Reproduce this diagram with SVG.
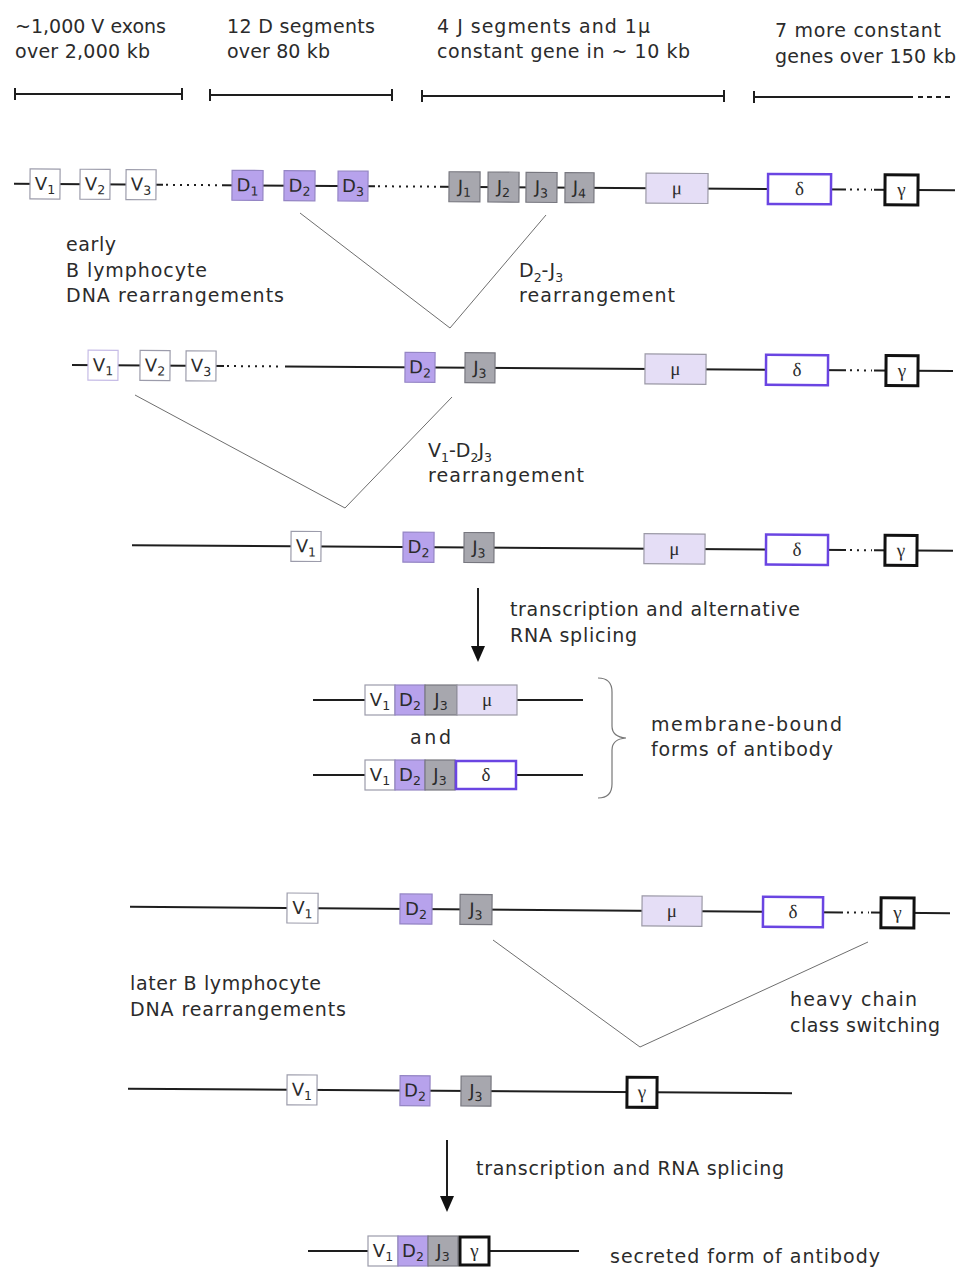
<svg xmlns="http://www.w3.org/2000/svg" width="966" height="1272" viewBox="0 0 966 1272">
  <style>
    .t { font-family: "DejaVu Sans", "Liberation Sans", sans-serif; font-size: 19px; fill: #2b2b2b; }
    .bl { font-family: "DejaVu Sans", "Liberation Sans", sans-serif; font-size: 18px; fill: #2b2b2b; text-anchor: middle; }
    .gk { font-family: "Liberation Serif", "DejaVu Serif", serif; font-size: 19px; fill: #2b2b2b; text-anchor: middle; }
    .sub { font-size: 12.5px; }
    .ln { stroke: #1e1e1e; stroke-width: 2; fill: none; }
    .dot { stroke: #1e1e1e; stroke-width: 2; stroke-dasharray: 2 5; fill: none; }
    .bar { stroke: #1e1e1e; stroke-width: 2; fill: none; }
    .v { fill: #ffffff; stroke: #9c9cab; stroke-width: 1.2; }
    .v2 { fill: #ffffff; stroke: #c6bce6; stroke-width: 1.2; }
    .d { fill: #b7a2ec; stroke: #9485c4; stroke-width: 1.2; }
    .j { fill: #a7a7ae; stroke: #77777f; stroke-width: 1.2; }
    .mu { fill: #e5def6; stroke: #9b99a6; stroke-width: 1.2; }
    .de { fill: #ffffff; stroke: #6a45e2; stroke-width: 2.5; }
    .ga { fill: #ffffff; stroke: #111111; stroke-width: 3; }
    .rl { stroke: #6e6e6e; stroke-width: 1; fill: none; }
    .br { stroke: #777777; stroke-width: 1.2; fill: none; }
  </style>
  <defs>
    <marker id="head" viewBox="0 0 16 14" refX="4" refY="7" markerWidth="16" markerHeight="14" markerUnits="userSpaceOnUse" orient="auto">
      <path d="M0,0 L16,7 L0,14 Z" fill="#111"/>
    </marker>
  </defs>

  <!-- scale header -->
  <g id="header">
    <text class="t" x="15" y="33" textLength="151" lengthAdjust="spacing">~1,000 V exons</text>
    <text class="t" x="15" y="58" textLength="135" lengthAdjust="spacing">over 2,000 kb</text>
    <text class="t" x="227" y="33" textLength="148" lengthAdjust="spacing">12 D segments</text>
    <text class="t" x="227" y="58" textLength="103" lengthAdjust="spacing">over 80 kb</text>
    <text class="t" x="437" y="33" textLength="213" lengthAdjust="spacing">4 J segments and 1μ</text>
    <text class="t" x="437" y="58" textLength="253" lengthAdjust="spacing">constant gene in ~ 10 kb</text>
    <text class="t" x="775" y="37" textLength="166" lengthAdjust="spacing">7 more constant</text>
    <text class="t" x="775" y="63" textLength="181" lengthAdjust="spacing">genes over 150 kb</text>
    <path class="bar" d="M15,94 H182 M15,88 V100 M182,88 V100"/>
    <path class="bar" d="M210,95 H392 M210,89 V101 M392,89 V101"/>
    <path class="bar" d="M422,96 H724 M422,90 V102 M724,90 V102"/>
    <path class="bar" d="M754,97 H913 M754,91 V103"/>
    <path class="bar" d="M918,97 H953" stroke-dasharray="5 4" stroke-width="1.5"/>
  </g>

  <!-- germline locus -->
  <g id="row-germline" transform="rotate(0.39 485 187)">
    <path class="ln" d="M14,187 H163 M222,187 H375 M440,187 H846 M874,187 H955"/>
    <path class="dot" d="M166,187 H220 M378,187 H438 M850,187 H872"/>
    <g id="g-V1"><rect class="v" x="30" y="172" width="30" height="30"/><text class="bl" x="45" y="193">V<tspan class="sub" dy="4">1</tspan></text></g>
    <g id="g-V2"><rect class="v" x="80" y="172" width="30" height="30"/><text class="bl" x="95" y="193">V<tspan class="sub" dy="4">2</tspan></text></g>
    <g id="g-V3"><rect class="v" x="126" y="172" width="30" height="30"/><text class="bl" x="141" y="193">V<tspan class="sub" dy="4">3</tspan></text></g>
    <g id="g-D1"><rect class="d" x="232" y="172" width="31" height="30"/><text class="bl" x="247.5" y="193">D<tspan class="sub" dy="4">1</tspan></text></g>
    <g id="g-D2"><rect class="d" x="284" y="172" width="31" height="30"/><text class="bl" x="299.5" y="193">D<tspan class="sub" dy="4">2</tspan></text></g>
    <g id="g-D3"><rect class="d" x="338" y="172" width="30" height="30"/><text class="bl" x="353" y="193">D<tspan class="sub" dy="4">3</tspan></text></g>
    <g id="g-J1"><rect class="j" x="449" y="172" width="31" height="30"/><text class="bl" x="464.5" y="193">J<tspan class="sub" dy="4">1</tspan></text></g>
    <g id="g-J2"><rect class="j" x="488" y="172" width="31" height="30"/><text class="bl" x="503.5" y="193">J<tspan class="sub" dy="4">2</tspan></text></g>
    <g id="g-J3"><rect class="j" x="526" y="172" width="31" height="30"/><text class="bl" x="541.5" y="193">J<tspan class="sub" dy="4">3</tspan></text></g>
    <g id="g-J4"><rect class="j" x="565" y="172" width="29" height="30"/><text class="bl" x="579.5" y="193">J<tspan class="sub" dy="4">4</tspan></text></g>
    <g id="g-mu"><rect class="mu" x="646" y="172" width="62" height="30"/><text class="gk" x="677" y="193">μ</text></g>
    <g id="g-delta"><rect class="de" x="768" y="172" width="63" height="30"/><text class="gk" x="799.5" y="193">δ</text></g>
    <g id="g-gamma"><rect class="ga" x="885" y="172" width="33" height="30"/><text class="gk" x="901.5" y="193">γ</text></g>
  </g>

  <!-- after D-J joining -->
  <g id="row-dj" transform="rotate(0.39 512 368)">
    <path class="ln" d="M72,368 H224 M285,368 H846 M874,368 H953"/>
    <path class="dot" d="M227,368 H283 M850,368 H872"/>
    <g id="dj-V1"><rect class="v2" x="88" y="353" width="30" height="30"/><text class="bl" x="103" y="374">V<tspan class="sub" dy="4">1</tspan></text></g>
    <g id="dj-V2"><rect class="v" x="140" y="353" width="30" height="30"/><text class="bl" x="155" y="374">V<tspan class="sub" dy="4">2</tspan></text></g>
    <g id="dj-V3"><rect class="v" x="186" y="353" width="30" height="30"/><text class="bl" x="201" y="374">V<tspan class="sub" dy="4">3</tspan></text></g>
    <g id="dj-D2"><rect class="d" x="405" y="353" width="30" height="30"/><text class="bl" x="420" y="374">D<tspan class="sub" dy="4">2</tspan></text></g>
    <g id="dj-J3"><rect class="j" x="465" y="353" width="30" height="30"/><text class="bl" x="480" y="374">J<tspan class="sub" dy="4">3</tspan></text></g>
    <g id="dj-mu"><rect class="mu" x="645" y="353" width="61" height="30"/><text class="gk" x="675.5" y="374">μ</text></g>
    <g id="dj-delta"><rect class="de" x="766" y="353" width="62" height="30"/><text class="gk" x="797" y="374">δ</text></g>
    <g id="dj-gamma"><rect class="ga" x="886" y="353" width="32" height="30"/><text class="gk" x="902" y="374">γ</text></g>
  </g>

  <!-- after V-DJ joining -->
  <g id="row-vdj" transform="rotate(0.39 540 548)">
    <path class="ln" d="M132,548 H846 M874,548 H953"/>
    <path class="dot" d="M850,548 H872"/>
    <g id="vdj-V1"><rect class="v" x="291" y="533" width="30" height="30"/><text class="bl" x="306" y="554">V<tspan class="sub" dy="4">1</tspan></text></g>
    <g id="vdj-D2"><rect class="d" x="403" y="533" width="31" height="30"/><text class="bl" x="418.5" y="554">D<tspan class="sub" dy="4">2</tspan></text></g>
    <g id="vdj-J3"><rect class="j" x="464" y="533" width="30" height="30"/><text class="bl" x="479" y="554">J<tspan class="sub" dy="4">3</tspan></text></g>
    <g id="vdj-mu"><rect class="mu" x="644" y="533" width="61" height="30"/><text class="gk" x="674.5" y="554">μ</text></g>
    <g id="vdj-delta"><rect class="de" x="766" y="533" width="62" height="30"/><text class="gk" x="797" y="554">δ</text></g>
    <g id="vdj-gamma"><rect class="ga" x="885" y="533" width="32" height="30"/><text class="gk" x="901" y="554">γ</text></g>
  </g>

  <!-- membrane-bound transcripts -->
  <g id="mrna-mu">
    <path class="ln" d="M313,700 H365 M517,700 H583"/>
    <rect class="v" x="365" y="685" width="30" height="30"/><text class="bl" x="380" y="706">V<tspan class="sub" dy="4">1</tspan></text>
    <rect class="d" x="395" y="685" width="30" height="30"/><text class="bl" x="410" y="706">D<tspan class="sub" dy="4">2</tspan></text>
    <rect class="j" x="425" y="685" width="32" height="30"/><text class="bl" x="441" y="706">J<tspan class="sub" dy="4">3</tspan></text>
    <rect class="mu" x="457" y="685" width="60" height="30"/><text class="gk" x="487" y="706">μ</text>
  </g>
  <text id="lbl-and" class="t" x="410" y="744" textLength="41" lengthAdjust="spacing">and</text>
  <g id="mrna-delta">
    <path class="ln" d="M313,775 H365 M516,775 H583"/>
    <rect class="v" x="365" y="760" width="30" height="30"/><text class="bl" x="380" y="781">V<tspan class="sub" dy="4">1</tspan></text>
    <rect class="d" x="395" y="760" width="30" height="30"/><text class="bl" x="410" y="781">D<tspan class="sub" dy="4">2</tspan></text>
    <rect class="j" x="425" y="760" width="30" height="30"/><text class="bl" x="440" y="781">J<tspan class="sub" dy="4">3</tspan></text>
    <rect class="de" x="456" y="761" width="60" height="28"/><text class="gk" x="486" y="781">δ</text>
  </g>
  <path id="brace" class="br" d="M598,678 Q612,678 612,692 L612,726 Q612,737 626,738 Q612,739 612,750 L612,784 Q612,798 598,798"/>

  <!-- B cell locus before class switch -->
  <g id="row-preswitch" transform="rotate(0.45 540 910)">
    <path class="ln" d="M130,910 H843 M871,910 H950"/>
    <path class="dot" d="M847,910 H869"/>
    <g id="ps-V1"><rect class="v" x="287" y="895" width="31" height="30"/><text class="bl" x="302.5" y="916">V<tspan class="sub" dy="4">1</tspan></text></g>
    <g id="ps-D2"><rect class="d" x="400" y="895" width="32" height="30"/><text class="bl" x="416" y="916">D<tspan class="sub" dy="4">2</tspan></text></g>
    <g id="ps-J3"><rect class="j" x="460" y="895" width="32" height="30"/><text class="bl" x="476" y="916">J<tspan class="sub" dy="4">3</tspan></text></g>
    <g id="ps-mu"><rect class="mu" x="642" y="895" width="60" height="30"/><text class="gk" x="672" y="916">μ</text></g>
    <g id="ps-delta"><rect class="de" x="763" y="895" width="60" height="30"/><text class="gk" x="793" y="916">δ</text></g>
    <g id="ps-gamma"><rect class="ga" x="881" y="895" width="33" height="30"/><text class="gk" x="897.5" y="916">γ</text></g>
  </g>

  <!-- after class switch -->
  <g id="row-switched" transform="rotate(0.4 460 1091)">
    <path class="ln" d="M128,1091 H792"/>
    <g id="sw-V1"><rect class="v" x="287" y="1076" width="30" height="30"/><text class="bl" x="302" y="1097">V<tspan class="sub" dy="4">1</tspan></text></g>
    <g id="sw-D2"><rect class="d" x="400" y="1076" width="30" height="30"/><text class="bl" x="415" y="1097">D<tspan class="sub" dy="4">2</tspan></text></g>
    <g id="sw-J3"><rect class="j" x="461" y="1076" width="30" height="30"/><text class="bl" x="476" y="1097">J<tspan class="sub" dy="4">3</tspan></text></g>
    <g id="sw-gamma"><rect class="ga" x="627" y="1076" width="30" height="30"/><text class="gk" x="642" y="1097">γ</text></g>
  </g>

  <!-- secreted transcript -->
  <g id="mrna-gamma">
    <path class="ln" d="M308,1251 H368 M490,1251 H579"/>
    <rect class="v" x="368" y="1236" width="30" height="30"/><text class="bl" x="383" y="1257">V<tspan class="sub" dy="4">1</tspan></text>
    <rect class="d" x="398" y="1236" width="30" height="30"/><text class="bl" x="413" y="1257">D<tspan class="sub" dy="4">2</tspan></text>
    <rect class="j" x="428" y="1236" width="30" height="30"/><text class="bl" x="443" y="1257">J<tspan class="sub" dy="4">3</tspan></text>
    <rect class="ga" x="460" y="1237" width="29" height="28"/><text class="gk" x="474.5" y="1257">γ</text>
  </g>

  <!-- labels -->
  <g id="labels">
    <text class="t" x="66" y="251" textLength="50" lengthAdjust="spacing">early</text>
    <text class="t" x="66" y="277" textLength="141" lengthAdjust="spacing">B lymphocyte</text>
    <text class="t" x="66" y="302" textLength="218" lengthAdjust="spacing">DNA rearrangements</text>
    <text class="t" x="519" y="277">D<tspan class="sub" dy="5">2</tspan><tspan dy="-5">-J</tspan><tspan class="sub" dy="5">3</tspan></text>
    <text class="t" x="519" y="302" textLength="156" lengthAdjust="spacing">rearrangement</text>
    <text class="t" x="428" y="457">V<tspan class="sub" dy="5">1</tspan><tspan dy="-5">-D</tspan><tspan class="sub" dy="5">2</tspan><tspan dy="-5">J</tspan><tspan class="sub" dy="5">3</tspan></text>
    <text class="t" x="428" y="482" textLength="156" lengthAdjust="spacing">rearrangement</text>
    <text class="t" x="510" y="616" textLength="290" lengthAdjust="spacing">transcription and alternative</text>
    <text class="t" x="510" y="642" textLength="127" lengthAdjust="spacing">RNA splicing</text>
    <text class="t" x="651" y="731" textLength="191" lengthAdjust="spacing">membrane-bound</text>
    <text class="t" x="651" y="756" textLength="182" lengthAdjust="spacing">forms of antibody</text>
    <text class="t" x="130" y="990" textLength="191" lengthAdjust="spacing">later B lymphocyte</text>
    <text class="t" x="130" y="1016" textLength="216" lengthAdjust="spacing">DNA rearrangements</text>
    <text class="t" x="790" y="1006" textLength="127" lengthAdjust="spacing">heavy chain</text>
    <text class="t" x="790" y="1032" textLength="150" lengthAdjust="spacing">class switching</text>
    <text class="t" x="476" y="1175" textLength="308" lengthAdjust="spacing">transcription and RNA splicing</text>
    <text class="t" x="610" y="1263" textLength="270" lengthAdjust="spacing">secreted form of antibody</text>
  </g>

  <!-- rearrangement joins and processing arrows -->
  <g id="connectors">
    <path class="rl" d="M300,213 L450,328 L546,215"/>
    <path class="rl" d="M135,395 L345,508 L452,397"/>
    <path class="rl" d="M493,940 L640,1047 L868,942"/>
    <path class="ln" d="M478,588 V650" marker-end="url(#head)"/>
    <path class="ln" d="M447,1140 V1200" marker-end="url(#head)"/>
  </g>
</svg>
